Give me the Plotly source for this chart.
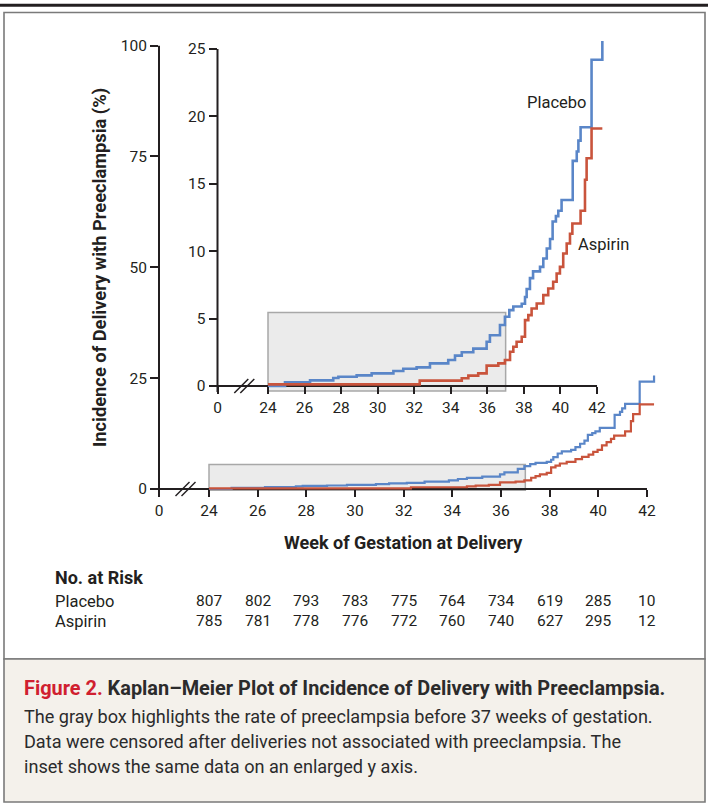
import plotly.graph_objects as go

W, H = 708, 804

# ---------------- data ----------------
placebo_weeks = [24.0, 24.93, 26.3, 27.57, 27.85, 28.85, 29.67, 30.86, 31.4, 32.13,
                 32.86, 33.86, 34.23, 34.6, 35.23, 35.96, 36.14, 36.69, 36.96, 37.2,
                 37.42, 37.88, 38.06, 38.15, 38.33, 38.5, 38.88, 39.06, 39.25, 39.43,
                 39.57, 39.75, 39.88, 40.06, 40.67, 40.89, 40.98, 41.1, 41.7, 42.29]
placebo_pct = [0, 0.27, 0.42, 0.59, 0.69, 0.79, 0.94, 1.11, 1.28, 1.38,
               1.68, 1.93, 2.25, 2.5, 2.77, 3.28, 3.77, 4.52, 5.14, 5.63,
               5.9, 6.1, 6.6, 7.2, 8.0, 8.5, 8.84, 9.46, 10.2, 10.9,
               12.2, 12.6, 13.0, 13.8, 16.7, 17.4, 18.2, 19.2, 24.2, 25.6]

aspirin_weeks = [24.0, 32.3, 34.6, 34.96, 35.5, 35.96, 36.6, 36.96, 37.24, 37.42,
                 37.6, 37.88, 38.06, 38.24, 38.42, 38.7, 39.06, 39.33, 39.6, 39.79,
                 39.97, 40.15, 40.34, 40.52, 40.65, 41.1, 41.34, 41.43, 41.7, 42.29]
aspirin_pct = [0.12, 0.4, 0.57, 0.77, 0.94, 1.51, 1.68, 1.93, 2.54, 2.91,
               3.28, 3.65, 4.89, 5.26, 5.75, 6.12, 6.74, 7.23, 7.73, 8.35,
               8.84, 9.83, 10.57, 11.3, 12.05, 13.0, 15.3, 16.9, 19.1, 19.1]

week_ticks = [24, 26, 28, 30, 32, 34, 36, 38, 40, 42]
main_y_ticks = [0, 25, 50, 75, 100]
inset_y_ticks = [0, 5, 10, 15, 20, 25]
highlight_weeks = [24, 37]

risk_groups = ["Placebo", "Aspirin"]
risk_placebo = [807, 802, 793, 783, 775, 764, 734, 619, 285, 10]
risk_aspirin = [785, 781, 778, 776, 772, 760, 740, 627, 295, 12]

# ---------------- styles ----------------
INK = "#231f20"
BLUE = "#5a86c8"
RED = "#c9543c"
FONT = "Roboto, Liberation Sans, sans-serif"


def px2x(px):
    return px / W


def py2y(py):
    return 1 - py / H


# main axes geometry (pixels per unit)
M_S, M_PX24, M_PXZERO = 24.333, 209, 159
M_X0 = 24 - (M_PX24 - M_PXZERO) / M_S
M_XMAX = 42.45
M_SY, M_PY0 = 4.435, 489
M_YMIN, M_YMAX = -1.3, 100

# inset geometry
I_S, I_PX24, I_PXZERO = 18.28, 268, 217.5
I_X0 = 24 - (I_PX24 - I_PXZERO) / I_S
I_XMAX = 42.4
I_SY, I_PY0 = 13.48, 386
I_YMIN, I_YMAX = -0.45, 25.75

main_xdom = [px2x(M_PXZERO), px2x(M_PX24 + (M_XMAX - 24) * M_S)]
main_ydom = [py2y(M_PY0 - M_YMIN * M_SY), py2y(M_PY0 - M_YMAX * M_SY)]
inset_xdom = [px2x(I_PXZERO), px2x(I_PX24 + (I_XMAX - 24) * I_S)]
inset_ydom = [py2y(I_PY0 - I_YMIN * I_SY), py2y(I_PY0 - I_YMAX * I_SY)]

fig = go.Figure()
for xa, ya, lw in [("x", "y", 2.2), ("x2", "y2", 2.6)]:
    fig.add_trace(go.Scatter(x=placebo_weeks, y=placebo_pct, mode="lines",
                             line=dict(color=BLUE, width=lw, shape="hv"),
                             xaxis=xa, yaxis=ya, showlegend=False, hoverinfo="skip"))
    fig.add_trace(go.Scatter(x=aspirin_weeks, y=aspirin_pct, mode="lines",
                             line=dict(color=RED, width=lw, shape="hv"),
                             xaxis=xa, yaxis=ya, showlegend=False, hoverinfo="skip"))

tickfont = dict(family=FONT, size=15.5, color=INK)


def xaxis_cfg(dom, x0, xmax, pos):
    return dict(domain=dom, range=[x0, xmax], anchor="free", position=pos,
                showline=False, showgrid=False, zeroline=False, automargin=False,
                ticks="outside", ticklen=7, tickwidth=2, tickcolor=INK,
                tickvals=[x0] + week_ticks, ticktext=["0"] + [str(t) for t in week_ticks],
                tickfont=tickfont, fixedrange=True)


def yaxis_cfg(dom, ymin, ymax, anchor, vals):
    return dict(domain=dom, range=[ymin, ymax], anchor=anchor,
                showline=False, showgrid=False, zeroline=False, automargin=False,
                ticks="outside", ticklen=8, tickwidth=2, tickcolor=INK,
                tickvals=vals, ticktext=[str(v) for v in vals],
                tickfont=tickfont, fixedrange=True)


fig.update_layout(
    width=W, height=H, autosize=False,
    margin=dict(l=0, r=0, t=0, b=0, pad=0, autoexpand=False),
    paper_bgcolor="white", plot_bgcolor="rgba(0,0,0,0)",
    xaxis=xaxis_cfg(main_xdom, M_X0, M_XMAX, py2y(M_PY0)),
    yaxis=yaxis_cfg(main_ydom, M_YMIN, M_YMAX, "x", main_y_ticks),
    xaxis2=xaxis_cfg(inset_xdom, I_X0, I_XMAX, py2y(I_PY0)),
    yaxis2=yaxis_cfg(inset_ydom, I_YMIN, I_YMAX, "x2", inset_y_ticks),
)

shapes = []
# frame / panels
shapes.append(dict(type="line", xref="paper", yref="paper", x0=0, x1=1,
                   y0=py2y(5.3), y1=py2y(5.3), line=dict(color=INK, width=3)))
shapes.append(dict(type="rect", xref="paper", yref="paper", x0=px2x(4), x1=px2x(705),
                   y0=py2y(659), y1=py2y(12.5), line=dict(color="#7a7a7a", width=1.6),
                   fillcolor="white", layer="below"))
shapes.append(dict(type="rect", xref="paper", yref="paper", x0=px2x(4), x1=px2x(705),
                   y0=py2y(802), y1=py2y(659), line=dict(color="#7a7a7a", width=1.6),
                   fillcolor="#f4f1eb", layer="below"))

# highlight boxes
shapes.append(dict(type="rect", xref="x", yref="y", x0=highlight_weeks[0], x1=highlight_weeks[1],
                   y0=-0.3, y1=5.5, fillcolor="#ebebeb", line=dict(color="#a8a8a8", width=1.5),
                   layer="below"))
shapes.append(dict(type="rect", xref="x2", yref="y2", x0=highlight_weeks[0], x1=highlight_weeks[1],
                   y0=-0.37, y1=5.45, fillcolor="#ebebeb", line=dict(color="#a8a8a8", width=1.5),
                   layer="below"))

# axis lines
for xa, ya, x0, ymin, ytop in [("x", "y", M_X0, M_YMIN, 100), ("x2", "y2", I_X0, I_YMIN, 25)]:
    shapes.append(dict(type="line", xref=xa + " domain", yref=ya, x0=0, x1=0, y0=ymin, y1=ytop,
                       line=dict(color=INK, width=2), layer="below"))
    shapes.append(dict(type="line", xref=xa, yref=ya, x0=x0, x1=42, y0=0, y1=0,
                       line=dict(color=INK, width=2), layer="below"))

# axis break marks
for xa, anchor, py0 in [("x", 24 - (209 - 185.5) / M_S, M_PY0), ("x2", 24 - (268 - 244.3) / I_S, I_PY0)]:
    for off in (-3, 3):
        shapes.append(dict(type="line", xref=xa, yref="paper", xsizemode="pixel", ysizemode="pixel",
                           xanchor=anchor, yanchor=py2y(py0),
                           x0=off - 7, x1=off + 7, y0=-7, y1=7,
                           line=dict(color=INK, width=1.5)))
fig.update_layout(shapes=shapes)

ann = []


def text(x, y, s, size=16, bold=False, color=INK, xanchor="left", angle=0, xref="paper"):
    ann.append(dict(x=px2x(x) if xref == "paper" else x, y=py2y(y), xref=xref, yref="paper",
                    showarrow=False, text=("<b>%s</b>" % s) if bold else s,
                    xanchor=xanchor, yanchor="middle", textangle=angle,
                    font=dict(family=FONT, size=size, color=color)))


text(100, 268, "Incidence of Delivery with Preeclampsia (%)", size=18.3, bold=True,
     xanchor="center", angle=-90)
text(403, 542, "Week of Gestation at Delivery", size=18, bold=True, xanchor="center")
text(556, 102, "Placebo", size=16.5, xanchor="center")
text(603, 244, "Aspirin", size=16.5, xanchor="center")

text(53, 577, "No. at Risk", size=18, bold=True)
for row_y, name, vals in [(601, risk_groups[0], risk_placebo), (621, risk_groups[1], risk_aspirin)]:
    text(53, row_y, name, size=16.5)
    for wk, v in zip(week_ticks, vals):
        text(wk, row_y, str(v), size=15.5, xanchor="center", xref="x")

text(22, 688, "<span style='color:#d0202f'>Figure 2.</span> Kaplan\u2013Meier Plot of Incidence of Delivery with Preeclampsia.",
     size=19.9, bold=True, color="#2b2b2b")
text(22, 716, "The gray box highlights the rate of preeclampsia before 37 weeks of gestation.", size=18.1, color="#2b2b2b")
text(22, 741, "Data were censored after deliveries not associated with preeclampsia. The", size=18.1, color="#2b2b2b")
text(22, 766, "inset shows the same data on an enlarged y axis.", size=18.1, color="#2b2b2b")

fig.update_layout(annotations=ann)

# remove the default page margin right away (outside the newPlot promise chain)
reset_css = ("}); (function(){var s=document.createElement('style');"
             "s.textContent='html,body{margin:0;padding:0;overflow:hidden}';"
             "document.head.appendChild(s);})(); Promise.resolve().then(function(){")
fig.write_html("out.html", config={"displayModeBar": False}, post_script=reset_css)
